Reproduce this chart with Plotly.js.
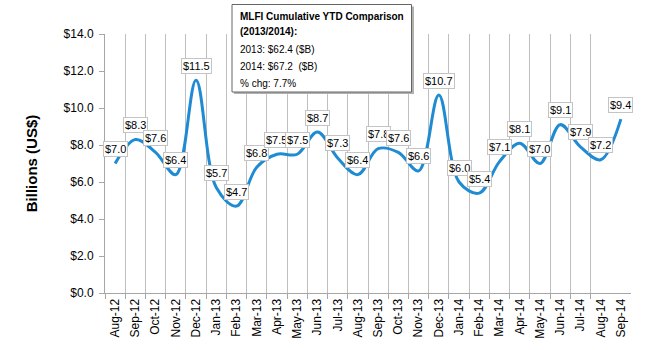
<!DOCTYPE html>
<html><head><meta charset="utf-8">
<script src="https://cdn.plot.ly/plotly-3.0.1.min.js"></script>
<style>body{margin:0;background:#fff}#c{width:650px;height:350px}</style>
</head><body><div id="c"></div>
<script>
const months = ["Aug-12","Sep-12","Oct-12","Nov-12","Dec-12","Jan-13","Feb-13","Mar-13","Apr-13","May-13","Jun-13","Jul-13","Aug-13","Sep-13","Oct-13","Nov-13","Dec-13","Jan-14","Feb-14","Mar-14","Apr-14","May-14","Jun-14","Jul-14","Aug-14","Sep-14"];
const values = [7.0,8.3,7.6,6.4,11.5,5.7,4.7,6.8,7.5,7.5,8.7,7.3,6.4,7.8,7.6,6.6,10.7,6.0,5.4,7.1,8.1,7.0,9.1,7.9,7.2,9.4];
const boxTitle = ["MLFI Cumulative YTD Comparison", "(2013/2014):"];
const boxLines = ["2013: $62.4 ($B)", "2014: $67.2  ($B)", "% chg: 7.7%"];

const L=105, R=19, T=34, B=57, W=650-L-R, H=350-T-B;
const px = x => (x-L)/W, py = y => (350-B-y)/H;
const idx = months.map((_,i)=>i);
const font = "Arial, 'Liberation Sans', sans-serif";

const annotations = values.map((v,i)=>({
  x:i, y:v, xref:'x', yref:'y', text:'$'+v.toFixed(1), showarrow:false,
  yshift:14.5, font:{family:font,size:11,color:'#000'},
  bgcolor:'#fff', bordercolor:'#c4c4c4', borderwidth:1, borderpad:1
}));
const tx = px(238);
[[boxTitle[0],17,true],[boxTitle[1],31,true],[boxLines[0],49,false],[boxLines[1],66.5,false],[boxLines[2],83.5,false]].forEach(([t,y,b])=>{
  annotations.push({xref:'paper',yref:'paper',x:tx,y:py(y),xanchor:'left',yanchor:'middle',showarrow:false,
    text:b?'<b>'+t+'</b>':t,font:{family:font,size:10,color:'#000'}});
});

const shapes = [
  {type:'rect',xref:'paper',yref:'paper',x0:px(234),x1:px(414),y0:py(6.5),y1:py(94),fillcolor:'#b0b0b0',line:{width:0},layer:'above'},
  {type:'rect',xref:'paper',yref:'paper',x0:px(232),x1:px(411.5),y0:py(4.5),y1:py(92),fillcolor:'#fff',line:{color:'#666',width:1},layer:'above'}
];

const trace = {x:idx, y:values, type:'scatter', mode:'lines',
  line:{shape:'spline', smoothing:1, color:'#1e8bd3', width:3}, hoverinfo:'skip'};

const layout = {
  width:650, height:350, margin:{l:L,r:R,t:T,b:B},
  paper_bgcolor:'#fff', plot_bgcolor:'#fff', showlegend:false,
  font:{family:font,size:12,color:'#000'},
  xaxis:{range:[-0.5,25.5], tickmode:'array', tickvals:idx, ticktext:months, tickangle:-90,
    ticks:'', showgrid:false, zeroline:false, showline:true, linecolor:'#a6a6a6', linewidth:1,
    tickfont:{family:font,size:12,color:'#000'},
    minor:{tickmode:'array', tickvals:idx.slice(0,25).map(i=>i-0.5), showgrid:true, gridcolor:'#bfbfbf', gridwidth:1,
      ticks:'outside', ticklen:5, tickcolor:'#a6a6a6'}},
  yaxis:{range:[0,14], dtick:2, tick0:0, tickformat:'$.1f', showgrid:false, zeroline:false,
    showline:true, linecolor:'#a6a6a6', linewidth:1, ticks:'outside', ticklen:5, tickcolor:'#a6a6a6',
    ticklabelstandoff:3, tickfont:{family:font,size:12,color:'#000'},
    title:{text:'<b>Billions (US$)</b>', font:{family:font,size:15,color:'#000'}, standoff:22}},
  annotations, shapes
};
Plotly.newPlot('c',[trace],layout,{staticPlot:true});
</script></body></html>
